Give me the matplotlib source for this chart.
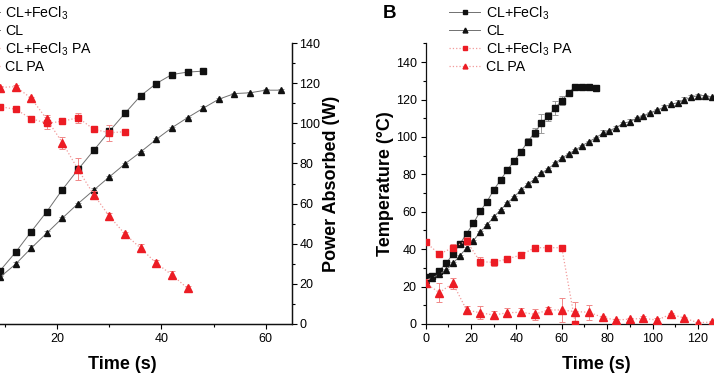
import matplotlib
matplotlib.use("Agg")
import matplotlib.pyplot as plt
from matplotlib.lines import Line2D
from matplotlib.ticker import MultipleLocator, FixedLocator

plt.rcParams['font.family'] = ['Liberation Sans', 'DejaVu Sans']
plt.rcParams['mathtext.fontset'] = 'custom'
plt.rcParams['mathtext.rm'] = 'Liberation Sans'
plt.rcParams['mathtext.it'] = 'Liberation Sans:italic'
plt.rcParams['mathtext.bf'] = 'Liberation Sans:bold'

# ---------------- Panel A data ----------------
a_t_fecl3 = [0, 3, 6, 9, 12, 15, 18, 21, 24, 27, 30, 33, 36, 39, 42, 45, 48]
a_fecl3 = [4, 10, 18, 26.5, 35.7, 46, 56, 67, 77, 86.5, 96, 105, 113.7, 119.8, 124.3, 125.5, 126]
a_fecl3_err = [0.5] * 17

a_t_cl = [0, 3, 6, 9, 12, 15, 18, 21, 24, 27, 30, 33, 36, 39, 42, 45, 48, 51, 54, 57, 60, 63]
a_cl = [6, 11, 17, 23.3, 29.8, 37.8, 45.3, 52.8, 60, 66.7, 73.3, 79.8, 85.7, 92, 97.8, 102.8,
        107.5, 112, 114.8, 115.2, 116.5, 116.5]
a_cl_err = [0.5, 0.5, 0.5, 0.8, 1, 1.5, 1, 0.5, 0.5, 1, 0.5, 0.5, 0.5, 0.5, 0.5, 0.5,
            1, 0.5, 0.5, 0.5, 0.5, 0.5]

a_t_fecl3_pa = [0, 3, 6, 9, 12, 15, 18, 21, 24, 27, 30, 33]
a_fecl3_pa = [112, 110, 109, 108.3, 107, 102.3, 100, 101, 102.8, 97, 95.3, 95.8]
a_fecl3_pa_err = [0.8, 0.8, 0.8, 0.8, 0.8, 0.8, 3, 0.8, 2.5, 0.8, 4, 0.8]

a_t_cl_pa = [0, 3, 6, 9, 12, 15, 18, 21, 24, 27, 30, 33, 36, 39, 42, 45]
a_cl_pa = [118, 118, 118, 117.8, 118.3, 112.5, 102, 90.3, 77, 64.5, 53.7, 44.8, 37.8, 30.3, 24.5, 17.8]
a_cl_pa_err = [0.8, 0.8, 0.8, 0.8, 0.8, 0.8, 2, 3, 5.5, 2, 1.5, 0.8, 2, 1.5, 2, 1]

a_xticks = [20, 40, 60]

# ---------------- Panel B data ----------------
b_t_fecl3 = [0, 3, 6, 9, 12, 15, 18, 21, 24, 27, 30, 33, 36, 39, 42, 45, 48, 51, 54, 57,
             60, 63, 66, 69, 72, 75]
b_fecl3 = [25, 25.7, 28.5, 32.4, 37.4, 42.6, 48.3, 53.8, 60.2, 65.4, 71.7, 77, 82.4, 87.2,
           92.2, 97.5, 102.3, 107.3, 111, 115.5, 119.4, 123.7, 126.9, 126.9, 126.9, 126]
b_fecl3_err = [0.7, 1, 1, 1.2, 1, 0.7, 0.7, 0.7, 0.7, 0.7, 0.7, 0.7, 0.7, 1.5, 1, 2, 2.5, 5,
               2.5, 3.5, 2.5, 1.2, 0.5, 0.5, 0.5, 0.5]

b_t_cl = [0, 3, 6, 9, 12, 15, 18, 21, 24, 27, 30, 33, 36, 39, 42, 45, 48, 51, 54, 57, 60,
          63, 66, 69, 72, 75, 78, 81, 84, 87, 90, 93, 96, 99, 102, 105, 108, 111, 114, 117,
          120, 123, 126, 129]
b_cl = [23.5, 24.8, 26.6, 28.9, 32.4, 36.4, 40.6, 44.5, 49.2, 53, 57.2, 61, 64.7, 68, 71.7,
        74.7, 77.5, 80.6, 83, 85.9, 88.6, 91, 93, 95.4, 97.5, 99.6, 102, 103.4, 105, 107.3,
        108.2, 110, 111.4, 113, 114.4, 115.9, 117.5, 118.3, 119.8, 121.2, 122.1, 122.1,
        121.2, 121]
b_cl_err = [0.5] * 26 + [1.5, 0.5, 1, 0.5, 1.5, 0.5, 0.5, 0.5, 0.5, 1, 0.5, 1.5, 1.5, 1,
                         1, 0.5, 0.5, 0.5]

b_t_fecl3_pa = [0, 6, 12, 18, 24, 30, 36, 42, 48, 54, 60, 66]
b_fecl3_pa = [43.7, 37.4, 40.8, 44.5, 33.3, 33, 34.8, 36.9, 40.8, 40.8, 40.8, 0]
b_fecl3_pa_err = [0.5, 0.5, 2, 2, 2.5, 2, 1, 0.5, 0.5, 0.5, 0.5, 0.5]

b_t_cl_pa = [0, 6, 12, 18, 24, 30, 36, 42, 48, 54, 60, 66, 72, 78, 84, 90, 96, 102, 108,
             114, 120, 126]
b_cl_pa = [21.8, 16.8, 21.8, 7.5, 6, 4.8, 6, 6.3, 5.2, 7.5, 7.5, 6.6, 6.3, 3.5, 2.1, 2.6,
           3, 2.1, 5.2, 3.2, 0.7, 1]
b_cl_pa_err = [2, 5, 3, 2, 3.5, 2, 2.5, 2, 3, 1.5, 6.5, 5, 4, 1, 0.5, 0.8, 1.5, 1, 0.5,
               0.8, 0.5, 0.5]

b_xticks = [0, 20, 40, 60, 80, 100, 120]

labels = ['CL+FeCl$_3$', 'CL', 'CL+FeCl$_3$ PA', 'CL PA']

BLACK = '#111111'
RED = '#ec1c24'
GRAY_LINE = '#707070'
GRAY_ERR = '#9a9a9a'
RED_LINE = '#f29a9a'
RED_ERR = '#f08888'


def black_series(ax, t, y, e, marker, ms):
    ax.errorbar(t, y, yerr=e, fmt=marker, ms=ms, color=GRAY_LINE, mec=BLACK, mfc=BLACK,
                ecolor=GRAY_ERR, elinewidth=0.7, capsize=2, capthick=0.7,
                linestyle='-', linewidth=0.7, zorder=3)


def red_series(ax, t, y, e, marker, ms):
    ax.errorbar(t, y, yerr=e, fmt=marker, ms=ms, color=RED_LINE, mec=RED, mfc=RED,
                ecolor=RED_ERR, elinewidth=0.7, capsize=2, capthick=0.7,
                linestyle=':', linewidth=0.9, zorder=4)


def style_ticks(ax):
    ax.tick_params(axis='both', which='major', direction='out', length=3.5, width=0.8,
                   labelsize=9, pad=3)
    ax.tick_params(axis='both', which='minor', direction='out', length=2, width=0.8)
    for s in ax.spines.values():
        s.set_linewidth(0.9)
        s.set_color('#111111')


fig = plt.figure(figsize=(7.14, 3.74), dpi=100)

# ---------------- Panel A ----------------
axA = fig.add_axes([-0.0658, 0.1337, 0.4744, 0.7513])
axA2 = axA.twinx()
black_series(axA, a_t_fecl3, a_fecl3, a_fecl3_err, 's', 3.8)
black_series(axA, a_t_cl, a_cl, a_cl_err, '^', 4.6)
red_series(axA2, a_t_fecl3_pa, a_fecl3_pa, a_fecl3_pa_err, 's', 4.3)
red_series(axA2, a_t_cl_pa, a_cl_pa, a_cl_pa_err, '^', 5.2)

for ax in (axA, axA2):
    ax.set_xlim(0, 65)
    ax.set_ylim(0, 140)
    ax.spines['top'].set_visible(False)
    style_ticks(ax)
axA.tick_params(axis='y', which='both', labelleft=False)
axA2.set_ylabel('Power Absorbed (W)', fontsize=13, fontweight='bold', labelpad=2)
axA.set_xlabel('Time (s)', fontsize=13, fontweight='bold', labelpad=8)
axA.xaxis.set_major_locator(FixedLocator(a_xticks))
axA.xaxis.set_minor_locator(MultipleLocator(10))
axA2.yaxis.set_major_locator(MultipleLocator(20))
axA2.yaxis.set_minor_locator(MultipleLocator(10))
axA.yaxis.set_major_locator(MultipleLocator(20))
axA.yaxis.set_minor_locator(MultipleLocator(10))
axA2.tick_params(axis='y', pad=2)

# ---------------- Panel B ----------------
axB = fig.add_axes([0.5962, 0.1337, 0.4766, 0.7500])
black_series(axB, b_t_fecl3, b_fecl3, b_fecl3_err, 's', 3.8)
black_series(axB, b_t_cl, b_cl, b_cl_err, '^', 4.6)
red_series(axB, b_t_fecl3_pa, b_fecl3_pa, b_fecl3_pa_err, 's', 4.3)
red_series(axB, b_t_cl_pa, b_cl_pa, b_cl_pa_err, '^', 5.2)
axB.set_xlim(0, 150)
axB.set_ylim(0, 150)
axB.spines['top'].set_visible(False)
axB.spines['right'].set_visible(False)
style_ticks(axB)
axB.xaxis.set_major_locator(FixedLocator(b_xticks))
axB.xaxis.set_minor_locator(MultipleLocator(10))
axB.yaxis.set_major_locator(MultipleLocator(20))
axB.yaxis.set_minor_locator(MultipleLocator(10))
axB.set_xlabel('Time (s)', fontsize=13, fontweight='bold', labelpad=8)
axB.set_ylabel('Temperature (°C)', fontsize=13, fontweight='bold', labelpad=1)

fig.text(383 / 714, 1 - 13 / 374, 'B', fontsize=13.5, fontweight='bold', ha='left', va='center')

# ---------------- Legends ----------------
def legend_handles():
    return [
        Line2D([], [], color=GRAY_LINE, lw=0.7, marker='s', ms=3, mfc=BLACK, mec=BLACK),
        Line2D([], [], color=GRAY_LINE, lw=0.7, marker='^', ms=3.5, mfc=BLACK, mec=BLACK),
        Line2D([], [], color=RED_LINE, lw=0.9, ls=':', marker='s', ms=3, mfc=RED, mec=RED),
        Line2D([], [], color=RED_LINE, lw=0.9, ls=':', marker='^', ms=3.5, mfc=RED, mec=RED),
    ]

legkw = dict(frameon=False, fontsize=10.2, handlelength=2.2, handletextpad=0.4,
             labelspacing=0.17, borderpad=0, borderaxespad=0, numpoints=1,
             loc='upper left', bbox_transform=fig.transFigure)
axA2.legend(legend_handles(), labels, bbox_to_anchor=(-0.044, 0.989), **legkw)
axB.legend(legend_handles(), labels, bbox_to_anchor=(449 / 714, 0.989), **legkw)

fig.savefig('out.png', dpi=100)
